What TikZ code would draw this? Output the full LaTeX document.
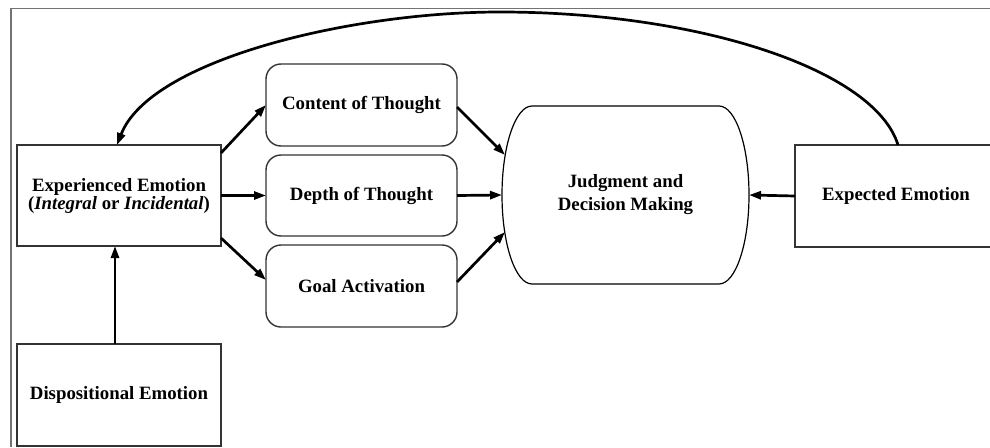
\documentclass[tikz,border=0pt]{standalone}
\usepackage{fontspec}
\setmainfont{Liberation Serif}
\usetikzlibrary{arrows.meta,calc}
\begin{document}
\begin{tikzpicture}[x=1pt,y=-1pt,
  box/.style={draw=black!80,line width=1.4pt,inner sep=0pt,outer sep=0pt,align=center,
    font=\fontsize{18.8}{16.5}\selectfont\bfseries,text=black},
  rbox/.style={box,rounded corners=15pt},
  arr/.style={line width=2.7pt,-{Triangle[length=12pt,width=8pt]}},
  frame/.style={draw=black!55,line width=1.2pt}]
\useasboundingbox (0,0) rectangle (990,447);
\draw[frame] (990,8.5) -- (11,8.5) -- (11,447);
\node[box,minimum width=204pt,minimum height=101pt] (exp) at (119,195.5) {Experienced Emotion\\(\textit{Integral} or \textit{Incidental})};
\node[box,minimum width=204pt,minimum height=102pt] (disp) at (119,395) {Dispositional Emotion};
\node[rbox,minimum width=191pt,minimum height=82pt] (cont) at (361.5,105) {Content of Thought};
\node[rbox,minimum width=191pt,minimum height=81pt] (depth) at (361.5,195.5) {Depth of Thought};
\node[rbox,minimum width=191pt,minimum height=82pt] (goal) at (361.5,286) {Goal Activation};
\node[box,draw=none,minimum width=247pt,minimum height=178pt,font=\fontsize{18.8}{23}\selectfont\bfseries] (jdm) at (625.5,195) {Judgment and\\Decision Making};
\draw[draw=black,line width=1.2pt] (532,106) -- (719,106) arc[start angle=90,end angle=-90,x radius=30,y radius=-89] -- (532,284) arc[start angle=270,end angle=90,x radius=30,y radius=-89] -- cycle;
\node[box,minimum width=202pt,minimum height=102pt] (expd) at (896,196) {Expected Emotion};
\coordinate (jin1) at (505,155);
\coordinate (jin3) at (505,232);
\coordinate (peak) at (500,12);
\draw[arr] ([yshift=-8pt]exp.north east) -- (cont.west);
\draw[arr] (exp.east) -- (depth.west);
\draw[arr] ([yshift=8pt]exp.south east) -- ([yshift=6pt]goal.west);
\draw[arr] ([yshift=-2pt]cont.east) -- (jin1);
\draw[arr] (depth.east) -- (jdm.west);
\draw[arr] ([yshift=4pt]goal.east) -- (jin3);
\draw[arr] (expd.west) -- (jdm.east);
\draw[arr] ([xshift=-4pt]disp.north) -- ([xshift=-4pt]exp.south);
\draw[arr] ([xshift=2pt]expd.north) .. controls (875,70) and (700,12) .. (peak) .. controls (350,12) and (150,60) .. ([xshift=-2pt]exp.north);
\end{tikzpicture}
\end{document}
